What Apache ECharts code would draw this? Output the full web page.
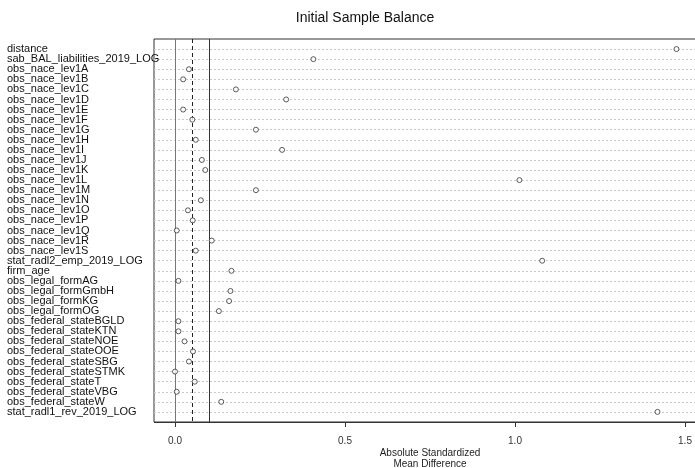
<!DOCTYPE html>
<html>
<head>
<meta charset="utf-8">
<script src="https://cdn.jsdelivr.net/npm/echarts@6/dist/echarts.min.js"></script>
<style>
  html, body { margin: 0; padding: 0; background: #fff; }
  #chart { width: 695px; height: 468px; }
</style>
</head>
<body>
<div id="chart"></div>
<script>
// covariate names, top to bottom
const covariates = [
  'distance', 'sab_BAL_liabilities_2019_LOG',
  'obs_nace_lev1A', 'obs_nace_lev1B', 'obs_nace_lev1C', 'obs_nace_lev1D',
  'obs_nace_lev1E', 'obs_nace_lev1F', 'obs_nace_lev1G', 'obs_nace_lev1H',
  'obs_nace_lev1I', 'obs_nace_lev1J', 'obs_nace_lev1K', 'obs_nace_lev1L',
  'obs_nace_lev1M', 'obs_nace_lev1N', 'obs_nace_lev1O', 'obs_nace_lev1P',
  'obs_nace_lev1Q', 'obs_nace_lev1R', 'obs_nace_lev1S',
  'stat_radl2_emp_2019_LOG', 'firm_age',
  'obs_legal_formAG', 'obs_legal_formGmbH', 'obs_legal_formKG', 'obs_legal_formOG',
  'obs_federal_stateBGLD', 'obs_federal_stateKTN', 'obs_federal_stateNOE',
  'obs_federal_stateOOE', 'obs_federal_stateSBG', 'obs_federal_stateSTMK',
  'obs_federal_stateT', 'obs_federal_stateVBG', 'obs_federal_stateW',
  'stat_radl1_rev_2019_LOG'
]

// absolute standardized mean differences
const asmd = [
  1.475, 0.407,
  0.041, 0.024, 0.179, 0.327,
  0.024, 0.051, 0.238, 0.061,
  0.315, 0.079, 0.089, 1.013,
  0.238, 0.076, 0.038, 0.052,
  0.005, 0.108, 0.061,
  1.080, 0.166,
  0.010, 0.163, 0.159, 0.129,
  0.010, 0.010, 0.028,
  0.053, 0.041, 0.000,
  0.058, 0.005, 0.136,
  1.419
]

const thresholds = [0.05, 0.1]

const chart = echarts.init(document.getElementById('chart'))

const font = '"Liberation Sans", Arial, sans-serif'

const option = {
  animation: false,
  textStyle: { fontFamily: font },
  title: {
    text: 'Initial Sample Balance',
    left: 360,
    top: 6,
    textAlign: 'center',
    textStyle: { fontSize: 14, fontWeight: 'normal', color: '#111', fontFamily: font }
  },
  grid: [
    // plot panel
    {
      left: 154,
      width: 545,
      top: 39,
      height: 383,
      outerBoundsMode: 'none',
      show: true,
      borderColor: '#333',
      borderWidth: 1,
      backgroundColor: 'transparent'
    },
    // strip that carries the 0 .. 1.5 scale under the panel
    {
      left: 175,
      width: 510,
      top: 421,
      height: 1,
      outerBoundsMode: 'none'
    }
  ],
  xAxis: [
    {
      gridIndex: 0,
      type: 'value',
      min: -0.0618,
      max: 1.5412,
      axisLine: { show: false, onZero: false },
      axisTick: { show: false },
      axisLabel: { show: false },
      splitLine: { show: false }
    },
    {
      gridIndex: 1,
      type: 'value',
      min: 0,
      max: 1.5,
      interval: 0.5,
      name: 'Absolute Standardized\nMean Difference',
      nameLocation: 'middle',
      nameGap: 26,
      nameTextStyle: { fontSize: 10, color: '#222', lineHeight: 11, fontFamily: font },
      axisLine: { show: false, onZero: false },
      axisTick: { show: true, length: 5, lineStyle: { color: '#333', width: 1 } },
      axisLabel: {
        margin: 14,
        fontSize: 10,
        color: '#333',
        formatter: v => v.toFixed(1)
      },
      splitLine: { show: false }
    }
  ],
  yAxis: [
    {
      gridIndex: 0,
      type: 'value',
      inverse: true,
      min: -1,
      max: 37,
      interval: 1,
      axisLine: { show: false, onZero: false },
      axisTick: { show: false },
      axisLabel: {
        align: 'left',
        margin: 147,
        fontSize: 11,
        color: '#111',
        showMinLabel: false,
        showMaxLabel: false,
        formatter: v => covariates[v] || ''
      },
      splitLine: {
        show: true,
        showMinLine: false,
        showMaxLine: false,
        lineStyle: { color: '#c8c8c8', type: [2, 2], width: 1 }
      }
    },
    {
      gridIndex: 1,
      type: 'value',
      show: false
    }
  ],
  series: [
    {
      type: 'scatter',
      xAxisIndex: 0,
      yAxisIndex: 0,
      symbol: 'circle',
      symbolSize: 5,
      itemStyle: { color: '#fff', borderColor: '#333', borderWidth: 1 },
      data: asmd.map((v, i) => [v, i]),
      z: 5,
      markLine: {
        silent: true,
        symbol: 'none',
        label: { show: false },
        data: [
          { xAxis: 0, lineStyle: { color: '#777', type: 'solid', width: 1 } },
          { xAxis: thresholds[0], lineStyle: { color: '#222', type: [4, 3], width: 1 } },
          { xAxis: thresholds[1], lineStyle: { color: '#333', type: 'solid', width: 1 } },
          // bottom edge of the panel
          { yAxis: 37, lineStyle: { color: '#333', type: 'solid', width: 1 } }
        ]
      }
    }
  ]
}

chart.setOption(option)
</script>
</body>
</html>
